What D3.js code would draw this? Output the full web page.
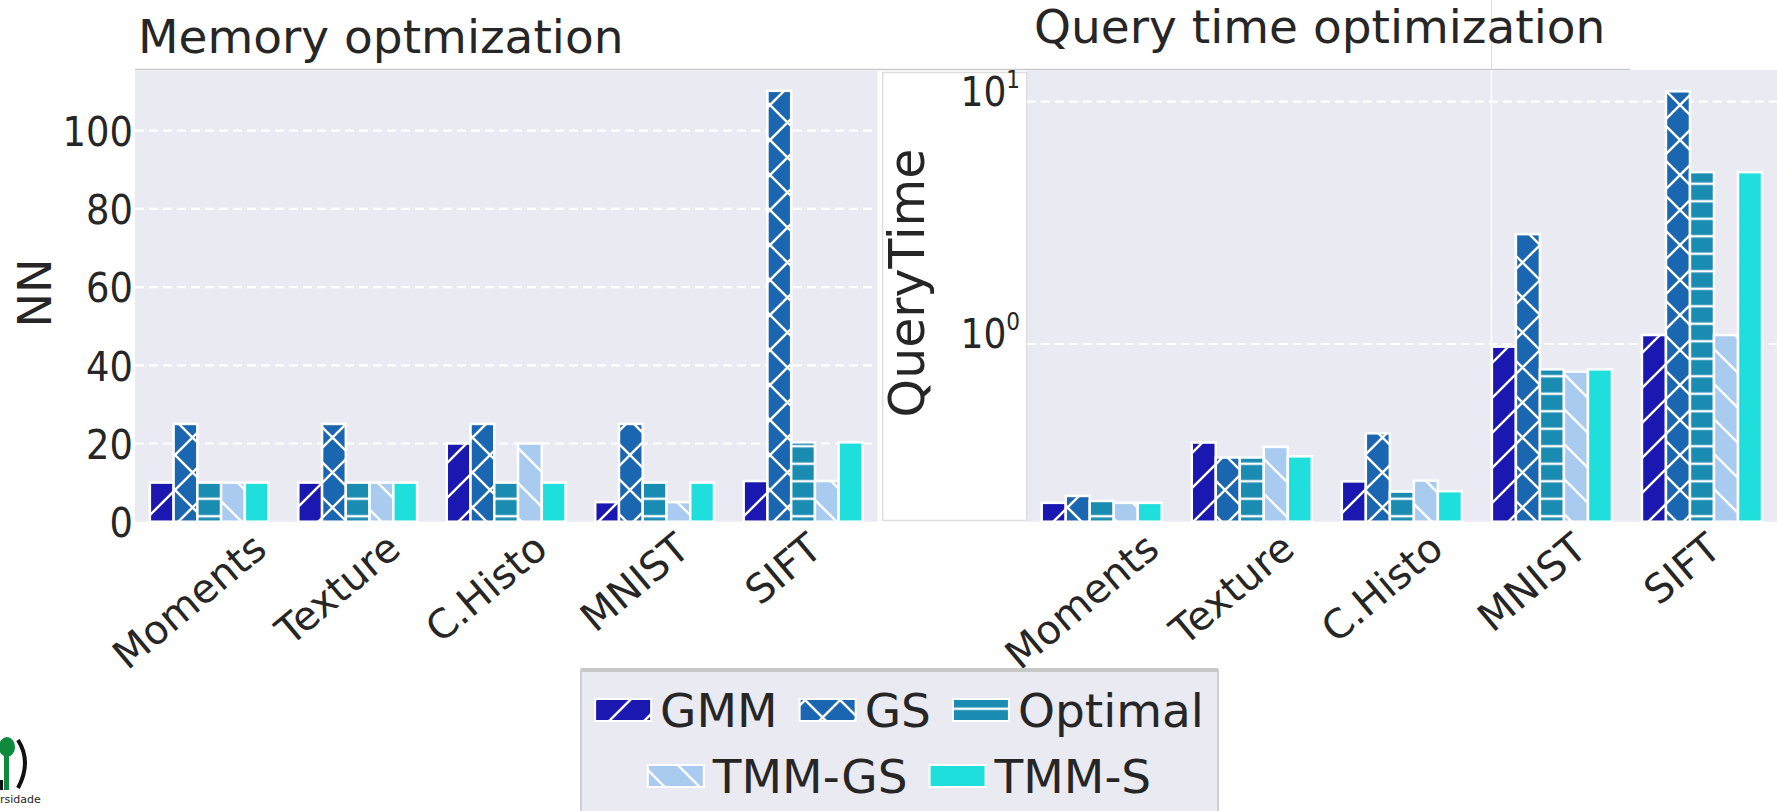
<!DOCTYPE html>
<html>
<head>
<meta charset="utf-8">
<script src="https://cdn.jsdelivr.net/npm/d3@7/dist/d3.min.js"></script>
<style>
  body { margin: 0; background: #fff; }
  svg { display: block; }
  text { fill: #262626; font-family: "DejaVu Sans", sans-serif; }
  .tick-lbl { font-family: "DejaVu Sans Condensed", "DejaVu Sans", sans-serif; font-stretch: condensed; }
</style>
</head>
<body>
<svg id="chart" width="1777" height="811"></svg>
<script>
// ---- data ----
var categories = ["Moments", "Texture", "C.Histo", "MNIST", "SIFT"];
var methods = ["GMM", "GS", "Optimal", "TMM-GS", "TMM-S"];

// left panel: NN (memory optimization)
var memGMM     = [10, 10, 20, 5, 10.4];
var memGS      = [25, 25, 25, 25, 110.2];
var memOptimal = [10, 10, 10, 10, 20.3];
var memTMMGS   = [10, 10, 20, 5, 10.4];
var memTMMS    = [10, 10, 10, 10, 20.3];

// right panel: QueryTime (log scale)
var qtGMM     = [0.221, 0.392, 0.271, 0.975, 1.089];
var qtGS      = [0.236, 0.340, 0.428, 2.84, 11.04];
var qtOptimal = [0.225, 0.340, 0.246, 0.786, 5.12];
var qtTMMGS   = [0.221, 0.376, 0.273, 0.769, 1.089];
var qtTMMS    = [0.221, 0.344, 0.247, 0.786, 5.12];

var memTicks = [0, 20, 40, 60, 80, 100];
var qtTicks = [1, 10];

var colors = ["#1b17b1", "#1a66b1", "#1a8bb1", "#a9cbef", "#1fdfdd"];
var hatches = ["/", "x", "-", "\\", ""];

var svg = d3.select("#chart");
var defs = svg.append("defs");

// hatch patterns (white lines over the bar colour)
var T = 35;
methods.forEach(function(m, i) {
  var h = hatches[i];
  if (!h) return;
  var size = h === "-" ? T / 2 : T;
  var p = defs.append("pattern")
    .attr("id", "hatch" + i)
    .attr("patternUnits", "userSpaceOnUse")
    .attr("width", T).attr("height", size);
  p.append("rect").attr("width", T).attr("height", size).attr("fill", colors[i]);
  var d = "";
  if (h === "/" || h === "x")
    d += "M0," + T + "L" + T + ",0M" + (-T/2) + "," + (T/2) + "L" + (T/2) + "," + (-T/2) +
         "M" + (T/2) + "," + (3*T/2) + "L" + (3*T/2) + "," + (T/2);
  if (h === "\\" || h === "x")
    d += "M0,0L" + T + "," + T + "M" + (-T/2) + "," + (T/2) + "L" + (T/2) + "," + (3*T/2) +
         "M" + (T/2) + "," + (-T/2) + "L" + (3*T/2) + "," + (T/2);
  if (h === "-")
    d += "M0," + (size/2) + "L" + T + "," + (size/2);
  p.append("path").attr("d", d).attr("stroke", "#fff").attr("stroke-width", 2.4).attr("fill", "none");
});
function fillOf(i) { return hatches[i] ? "url(#hatch" + i + ")" : colors[i]; }

function drawBars(g, series, xBand, y, yBase) {
  var inner = d3.scaleBand().domain(methods).range([0, xBand.bandwidth()]);
  series.forEach(function(vals, mi) {
    g.selectAll(null).data(vals).enter().append("rect")
      .attr("x", function(d, ci) { return xBand(categories[ci]) + inner(methods[mi]); })
      .attr("y", function(d) { return y(d); })
      .attr("width", inner.bandwidth())
      .attr("height", function(d) { return yBase - y(d); })
      .attr("fill", fillOf(mi))
      .attr("stroke", "#fff")
      .attr("stroke-width", 2.5);
  });
}

function drawXLabels(xBand) {
  var a = 40 * Math.PI / 180;
  categories.forEach(function(c) {
    var t = svg.append("text").text(c).attr("font-size", 40)
      .attr("text-anchor", "middle").attr("dominant-baseline", "central");
    var L = t.node().getComputedTextLength();
    var cx = xBand(c) + xBand.bandwidth() / 2 - 20;
    var cy = 528 + (L * Math.sin(a) + 36 * Math.cos(a)) / 2;
    t.attr("transform", "translate(" + cx + "," + cy + ") rotate(-40)");
  });
}

// ---- left panel ----
var L0 = 135, L1 = 877.3, top0 = 71, base = 521.7;
svg.append("rect").attr("x", L0).attr("y", top0).attr("width", L1 - L0).attr("height", base - top0)
  .attr("fill", "#eaeaf2");

var xMem = d3.scaleBand().domain(categories).range([L0, L1]).paddingInner(0.2).paddingOuter(0.1);
var yMem = d3.scaleLinear().domain([0, 100]).range([base, 130.7]);

var gMem = svg.append("g");
gMem.selectAll(".grid").data(memTicks.filter(function(v) { return v > 0; })).enter().append("line")
  .attr("x1", L0).attr("x2", L1)
  .attr("y1", function(d) { return yMem(d); }).attr("y2", function(d) { return yMem(d); })
  .attr("stroke", "#fff").attr("stroke-width", 2.2).attr("stroke-dasharray", "9,5");

var axMem = svg.append("g").attr("transform", "translate(" + (L0 - 2) + ",0)")
  .call(d3.axisLeft(yMem).tickValues(memTicks).tickSize(0).tickPadding(0));
axMem.select(".domain").remove();
axMem.selectAll("text").attr("class", "tick-lbl").attr("font-size", 41).attr("fill", "#262626")
  .attr("dy", "0.36em");

drawBars(gMem, [memGMM, memGS, memOptimal, memTMMGS, memTMMS], xMem, yMem, base);
drawXLabels(xMem);

svg.append("text").text("NN").attr("font-size", 46).attr("text-anchor", "middle")
  .attr("transform", "translate(51,293) rotate(-90)");
svg.append("text").text("Memory optmization").attr("font-size", 47)
  .attr("x", 138).attr("y", 53);

// seam lines of the composed figure
svg.append("line").attr("x1", L0).attr("x2", 1630).attr("y1", 69.5).attr("y2", 69.5)
  .attr("stroke", "#c9c9c9").attr("stroke-width", 1.5);

// ---- right panel ----
var R0 = 1026.7, R1 = 1777, rTop = 70;
svg.append("rect").attr("x", R0).attr("y", rTop).attr("width", R1 - R0).attr("height", base - rTop)
  .attr("fill", "#eaeaf2");
svg.append("rect").attr("x", 882.7).attr("y", 72.5).attr("width", 144).attr("height", 448)
  .attr("fill", "#fff").attr("stroke", "#dedede").attr("stroke-width", 1.5);
svg.append("line").attr("x1", 1491.5).attr("x2", 1491.5).attr("y1", 0).attr("y2", 69)
  .attr("stroke", "#e2e2e2").attr("stroke-width", 1.2);
svg.append("line").attr("x1", 1491.5).attr("x2", 1491.5).attr("y1", rTop).attr("y2", base)
  .attr("stroke", "#fff").attr("stroke-width", 1.5);

var xQt = d3.scaleBand().domain(categories).range([R0, R1]).paddingInner(0.2).paddingOuter(0.1);
var yQt = d3.scaleLog().domain([1, 10]).range([344, 101.7]);

var gQt = svg.append("g");
gQt.selectAll(".grid").data(qtTicks).enter().append("line")
  .attr("x1", R0).attr("x2", R1)
  .attr("y1", function(d) { return yQt(d); }).attr("y2", function(d) { return yQt(d); })
  .attr("stroke", "#fff").attr("stroke-width", 2.2).attr("stroke-dasharray", "9,5");

var axQt = svg.append("g").attr("transform", "translate(1020,0)")
  .call(d3.axisLeft(yQt).tickValues(qtTicks).tickSize(0).tickPadding(0).tickFormat(function() { return ""; }));
axQt.select(".domain").remove();
axQt.selectAll(".tick text").each(function(d) {
  var t = d3.select(this).attr("class", "tick-lbl").attr("fill", "#262626").attr("dy", "0.36em");
  t.append("tspan").attr("font-size", 40).text("10");
  t.append("tspan").attr("font-size", 24).attr("dy", "-0.75em").text(Math.round(Math.log10(d)));
});

drawBars(gQt, [qtGMM, qtGS, qtOptimal, qtTMMGS, qtTMMS], xQt, yQt, base);
drawXLabels(xQt);

svg.append("text").text("QueryTime").attr("font-size", 49).attr("text-anchor", "middle")
  .attr("transform", "translate(924,283) rotate(-90)");
svg.append("text").text("Query time optimization").attr("font-size", 47)
  .attr("x", 1034).attr("y", 43);

// ---- legend ----
var lg = svg.append("g");
lg.append("rect").attr("x", 581).attr("y", 670).attr("width", 637).attr("height", 160)
  .attr("fill", "#eaeaf2").attr("stroke", "#d0d0d0").attr("stroke-width", 2);
lg.append("line").attr("x1", 581).attr("x2", 1218).attr("y1", 670).attr("y2", 670)
  .attr("stroke", "#c8c8c8").attr("stroke-width", 4);

var rows = [[0, 1, 2], [3, 4]];
var rowBase = [727, 793];
var patchW = 56, patchH = 22, gapText = 9, gapItem = 22;
rows.forEach(function(row, r) {
  var items = lg.append("g");
  var x = 0;
  row.forEach(function(mi, k) {
    items.append("rect").attr("x", x).attr("y", rowBase[r] - 28).attr("width", patchW).attr("height", patchH)
      .attr("fill", fillOf(mi)).attr("stroke", "#fff").attr("stroke-width", 2);
    var t = items.append("text").text(methods[mi]).attr("font-size", 47)
      .attr("x", x + patchW + gapText).attr("y", rowBase[r]);
    x += patchW + gapText + t.node().getComputedTextLength() + gapItem;
  });
  var w = x - gapItem;
  items.attr("transform", "translate(" + (899.5 - w / 2) + ",0)");
});

// ---- partial logo at the bottom-left corner ----
var logo = svg.append("g");
logo.append("ellipse").attr("cx", 7).attr("cy", 747).attr("rx", 8).attr("ry", 10).attr("fill", "#0f8a3c");
logo.append("rect").attr("x", 4).attr("y", 752).attr("width", 5).attr("height", 38).attr("fill", "#0f8a3c");
logo.append("path").attr("d", "M18,740 Q32,762 18,788").attr("stroke", "#111").attr("stroke-width", 4).attr("fill", "none");
logo.append("rect").attr("x", 0).attr("y", 780).attr("width", 3).attr("height", 10).attr("fill", "#111");
logo.append("text").text("rsidade").attr("x", 0).attr("y", 803).attr("font-size", 11)
  .attr("font-family", "DejaVu Serif").attr("fill", "#111");
</script>
</body>
</html>
